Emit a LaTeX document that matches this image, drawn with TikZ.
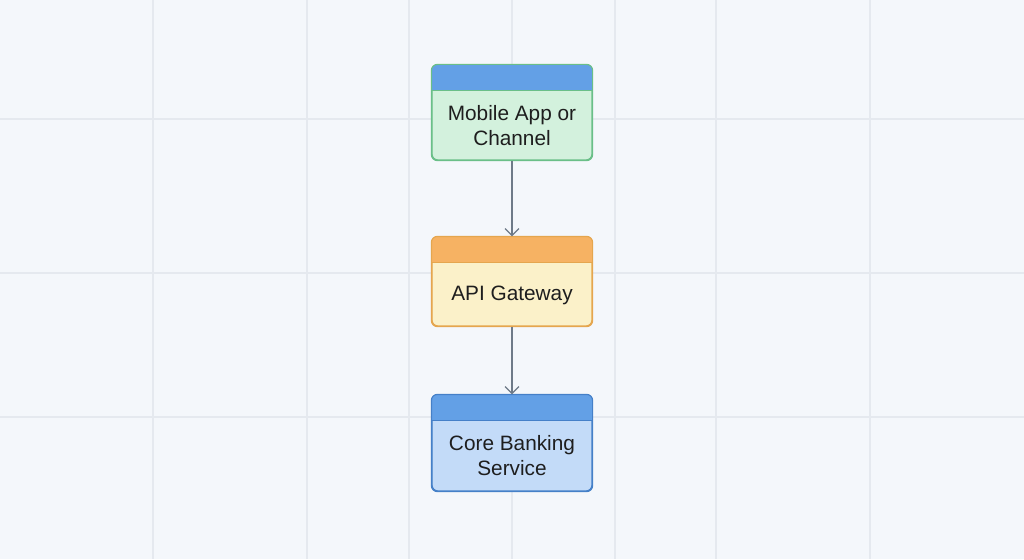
\documentclass[tikz,border=0pt]{standalone}
\usepackage{fontspec}
\setmainfont{Liberation Sans}
\usetikzlibrary{arrows.meta}
\definecolor{bgc}{HTML}{F4F7FB}
\definecolor{gridc}{HTML}{E5E9EF}
\definecolor{hblue}{HTML}{63A0E6}
\definecolor{bblue}{HTML}{C3DBF8}
\definecolor{dblue}{HTML}{4580C8}
\definecolor{bgreen}{HTML}{D3F1DD}
\definecolor{dgreen}{HTML}{6ABF88}
\definecolor{horange}{HTML}{F6B263}
\definecolor{borange}{HTML}{FBF1C9}
\definecolor{dorange}{HTML}{E5A64E}
\definecolor{arrowc}{HTML}{6E7A88}
\definecolor{txt}{HTML}{1E1E1E}
\tikzset{
  card/.style={draw=#1, line width=1.2pt, rounded corners=6pt, minimum width=160pt, minimum height=95pt, inner sep=0pt},
  cardtext/.style={text=txt, font=\fontsize{20.8}{25}\selectfont, align=center, inner sep=0pt},
  gridline/.style={draw=gridc, line width=1.1pt},
  flow/.style={draw=arrowc, line width=1.2pt, -{Straight Barb[length=7pt,width=14pt,line width=1.2pt]}}
}
\newcommand{\cardhead}[3]{%
  \begin{scope}
    \clip[rounded corners=6pt] (#1.north west) rectangle (#1.south east);
    \fill[#2] (#1.north west) rectangle ([yshift=-26pt]#1.north east);
    \draw[#3, line width=1.1pt] ([yshift=-26pt]#1.north west) -- ([yshift=-26pt]#1.north east);
  \end{scope}
  \draw[#3, line width=1.2pt, rounded corners=6pt] (#1.north west) rectangle (#1.south east);
}
\begin{document}
\begin{tikzpicture}[x=1pt,y=-1pt]
\fill[bgc] (0,0) rectangle (1024,559);
\useasboundingbox (0,0) rectangle (1024,559);
\foreach \gx in {153,307,409,512,615,716,870} \draw[gridline] (\gx,0) -- (\gx,559);
\foreach \gy in {119,273,417} \draw[gridline] (0,\gy) -- (1024,\gy);

\node[card=dgreen, fill=bgreen, minimum height=95pt] (m) at (512,112.5) {};
\cardhead{m}{hblue}{dgreen}
\node[cardtext] (mt) at (512,125.5) {Mobile App or\\Channel};

\node[card=dorange, fill=borange, minimum height=89pt] (g) at (512,281.5) {};
\cardhead{g}{horange}{dorange}
\node[cardtext] (gt) at (512,295) {API Gateway};

\node[card=dblue, fill=bblue, minimum height=96pt] (c) at (512,443) {};
\cardhead{c}{hblue}{dblue}
\node[cardtext] (ct) at (512,456) {Core Banking\\Service};

\draw[flow] (m.south) -- (g.north);
\draw[flow] (g.south) -- (c.north);
\end{tikzpicture}
\end{document}
